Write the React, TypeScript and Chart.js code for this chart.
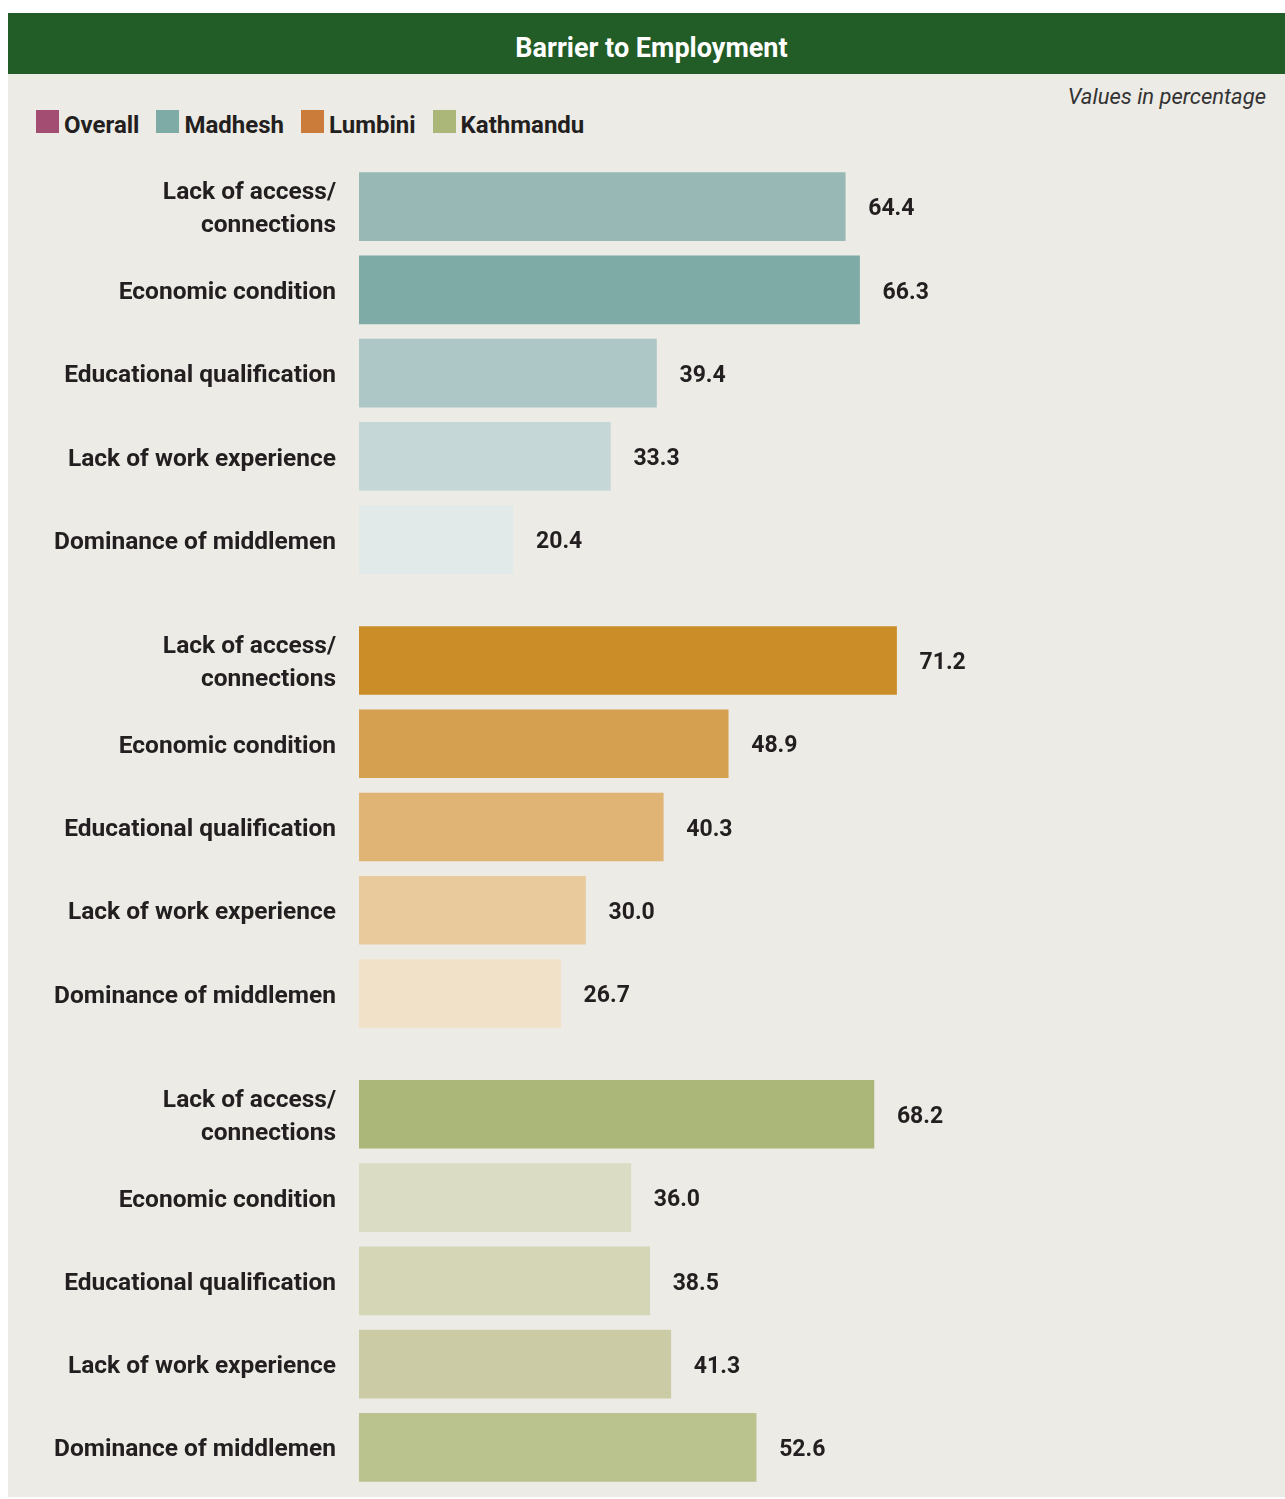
import React, { useEffect, useRef } from "react";
import { Chart, registerables } from "chart.js";

Chart.register(...registerables);

// ---- data ----
const categories: string[][] = [
  ["Lack of access/", "connections"],
  ["Economic condition"],
  ["Educational qualification"],
  ["Lack of work experience"],
  ["Dominance of middlemen"],
];
const regions = ["Madhesh", "Lumbini", "Kathmandu"];
const madheshValues = [64.4, 66.3, 39.4, 33.3, 20.4];
const lumbiniValues = [71.2, 48.9, 40.3, 30.0, 26.7];
const kathmanduValues = [68.2, 36.0, 38.5, 41.3, 52.6];

const legendLabels = ["Overall", "Madhesh", "Lumbini", "Kathmandu"];

// ---- styles ----
const legendColors = ["#A34D72", "#7FABA7", "#CB7B3A", "#ABB679"];
const madheshColors = ["#97B8B5", "#7FABA7", "#ADC7C6", "#C5D8D7", "#E1EAE8"];
const lumbiniColors = ["#CB8D28", "#D5A04F", "#DFB475", "#E9CA9D", "#F2E1C9"];
const kathmanduColors = ["#ABB679", "#DADCC3", "#D4D6B5", "#CBCCA6", "#BAC28E"];

const TEXT = "#231F20";
const BG = "#EDEBE6";
const HEADER = "#225C26";
const FONT = "Roboto, 'Liberation Sans', sans-serif";
const GROUP_GAP = 0.45;

export default function App() {
  const canvasRef = useRef<HTMLCanvasElement | null>(null);

  useEffect(() => {
    if (!canvasRef.current) return;
    const series = [madheshValues, lumbiniValues, kathmanduValues];
    const colors = [madheshColors, lumbiniColors, kathmanduColors];
    const n = categories.length;
    const positions: number[] = [];
    const tickLabels: (string | string[])[] = [];
    series.forEach((vals, g) => {
      vals.forEach((_, i) => {
        positions.push(g * (n + GROUP_GAP) + i);
        tickLabels.push(categories[i].length > 1 ? categories[i] : categories[i][0]);
      });
    });
    const maxPos = positions[positions.length - 1];

    const datasets = series.map((vals, g) => ({
      label: regions[g],
      data: vals.map((v, i) => ({ x: v, y: g * (n + GROUP_GAP) + i })),
      backgroundColor: colors[g],
      borderWidth: 0,
      barThickness: 68,
      grouped: false,
    }));

    const valueLabels = {
      id: "valueLabels",
      afterDatasetsDraw(chart: any) {
        const ctx = chart.ctx;
        ctx.save();
        ctx.font = `bold 23px ${FONT}`;
        ctx.fillStyle = TEXT;
        ctx.textAlign = "left";
        ctx.textBaseline = "middle";
        chart.data.datasets.forEach((ds: any, di: number) => {
          chart.getDatasetMeta(di).data.forEach((bar: any, i: number) => {
            const v = ds.data[i].x as number;
            ctx.fillText(v.toFixed(1), bar.x + 23, bar.y + 3);
          });
        });
        ctx.restore();
      },
    };

    const chart = new Chart(canvasRef.current, {
      type: "bar",
      data: { datasets: datasets as any },
      plugins: [valueLabels],
      options: {
        responsive: false,
        animation: false,
        indexAxis: "y",
        layout: { padding: { left: 0, right: 171, top: 0, bottom: 0 } },
        plugins: {
          legend: { display: false },
          title: { display: false },
          tooltip: { enabled: false },
        },
        scales: {
          x: { type: "linear", min: 0, max: 100, display: false },
          y: {
            type: "linear",
            reverse: true,
            offset: false,
            min: -0.5,
            max: maxPos + 0.5,
            grid: { display: false, drawTicks: false, offset: false },
            border: { display: false },
            afterBuildTicks: (scale: any) => {
              scale.ticks = positions.map((v) => ({ value: v }));
            },
            afterFit: (scale: any) => {
              scale.width = 351;
              scale.paddingTop = 0;
              scale.paddingBottom = 0;
            },
            ticks: {
              autoSkip: false,
              padding: 23,
              labelOffset: 3,
              color: TEXT,
              font: { family: FONT, weight: "bold", size: 24.5, lineHeight: 1.347 },
              callback: (_v: any, index: number) => tickLabels[index],
            },
          },
        },
      } as any,
    });
    return () => chart.destroy();
  }, []);

  return (
    <div
      style={{
        position: "absolute",
        left: 8,
        top: 13,
        width: 1277,
        height: 1484,
        background: BG,
        fontFamily: FONT,
        color: TEXT,
        overflow: "hidden",
      }}
    >
      <div style={{ position: "absolute", left: 0, top: 0, width: 1277, height: 61, background: HEADER }}>
        <div
          style={{
            position: "absolute",
            top: 22,
            left: 10,
            width: 1267,
            textAlign: "center",
            color: "#FFFFFF",
            fontWeight: 700,
            fontSize: 27,
            lineHeight: "26px",
          }}
        >
          Barrier to Employment
        </div>
      </div>
      <div
        style={{
          position: "absolute",
          right: 19,
          top: 73,
          fontStyle: "italic",
          fontSize: 22,
          lineHeight: "22px",
          color: "#333333",
        }}
      >
        Values in percentage
      </div>
      <div style={{ position: "absolute", left: 28, top: 97, display: "flex", alignItems: "flex-start" }}>
        {legendLabels.map((l, i) => (
          <div key={l} style={{ display: "flex", alignItems: "flex-start", marginRight: 17 }}>
            <div style={{ width: 23, height: 23, background: legendColors[i], marginRight: 5 }} />
            <span style={{ fontSize: 24, fontWeight: 700, lineHeight: "24px", marginTop: 3 }}>{l}</span>
          </div>
        ))}
      </div>
      <canvas
        ref={canvasRef}
        width={1277}
        height={1324}
        style={{ position: "absolute", left: 0, top: 152, width: 1277, height: 1324 }}
      />
    </div>
  );
}
